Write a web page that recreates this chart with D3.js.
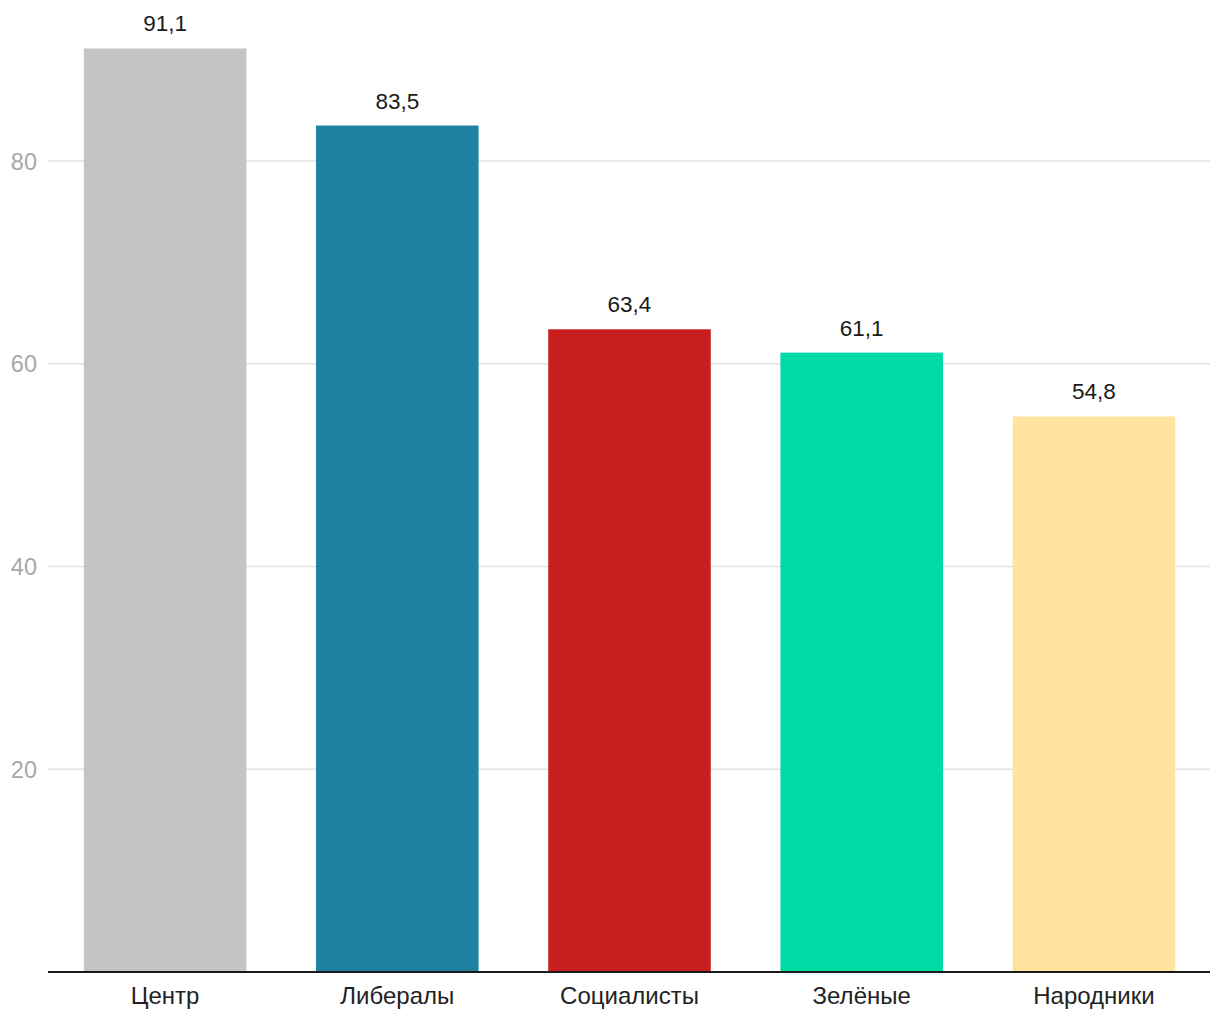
<!DOCTYPE html>
<html><head><meta charset="utf-8">
<script src="https://cdn.jsdelivr.net/npm/d3@7"></script>
<style>body{margin:0;background:#fff;}svg{display:block;font-family:"Liberation Sans",Arial,sans-serif;}</style>
</head><body><svg id="c" width="1220" height="1020"></svg>
<script>
const categories = ["Центр","Либералы","Социалисты","Зелёные","Народники"];
const values = [91.1, 83.5, 63.4, 61.1, 54.8];
const colors = ["#c4c4c4","#1f82a1","#c81e1e","#00dba6","#ffe39e"];
const yTicks = [20, 40, 60, 80];

const svg = d3.select("#c");
const x = d3.scaleBand().domain(categories).range([49, 1210]).paddingInner(0.3).paddingOuter(0.15);
const y = d3.scaleLinear().domain([0, 80]).range([972, 161]);

const grid = svg.append("g");
grid.selectAll("line").data(yTicks).join("line")
  .attr("x1", 48).attr("x2", 1210)
  .attr("y1", d => y(d)).attr("y2", d => y(d))
  .attr("stroke", "#e2e2e2").attr("stroke-width", 1.5);
grid.selectAll("text").data(yTicks).join("text")
  .attr("x", 37).attr("y", d => y(d) + 8.5)
  .attr("text-anchor", "end").attr("fill", "#a8a8a8")
  .attr("font-size", 23.5).text(d => d);

svg.append("g").selectAll("rect").data(values).join("rect")
  .attr("x", (d, i) => x(categories[i])).attr("width", x.bandwidth())
  .attr("y", d => y(d)).attr("height", d => y(0) - y(d))
  .attr("fill", (d, i) => colors[i]);

svg.append("g").selectAll("text").data(values).join("text")
  .attr("x", (d, i) => x(categories[i]) + x.bandwidth() / 2)
  .attr("y", d => y(d) - 17)
  .attr("text-anchor", "middle").attr("fill", "#1a1a1a").attr("font-size", 22.5)
  .text(d => d.toFixed(1).replace(".", ","));

const xAxis = svg.append("g").attr("transform", `translate(0,${y(0)})`)
  .call(d3.axisBottom(x).tickSize(0).tickPadding(16));
xAxis.select(".domain").attr("d", "M48,0H1210").attr("stroke", "#1a1a1a").attr("stroke-width", 2);
xAxis.selectAll("text").attr("font-size", 24).attr("fill", "#222").attr("dy", null).attr("y", 32)
  .attr("font-family", "'Liberation Sans',Arial,sans-serif");
</script></body></html>
